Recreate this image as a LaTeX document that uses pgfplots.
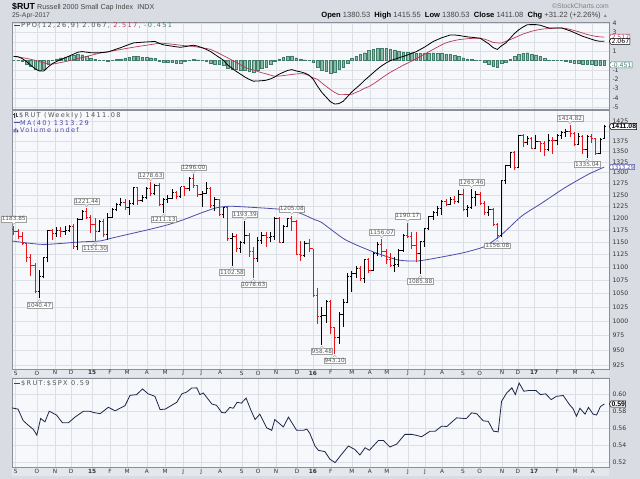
\documentclass[border=0pt]{standalone}
\usepackage{pgfplots}
\pgfplotsset{compat=1.18}
\usepackage{pgfplotstable}
\usepackage{fontspec}
\setmainfont{DejaVu Sans}
\newfontfamily\lib{Liberation Sans}
\newfontfamily\legf[LetterSpace=20]{DejaVu Sans}
\usetikzlibrary{shapes.symbols}
\definecolor{outer}{HTML}{D9DDE3}
\definecolor{plotbg}{HTML}{F7F8FB}
\definecolor{gridc}{HTML}{DCDFE6}
\definecolor{axisc}{HTML}{8A9099}
\definecolor{bandc}{HTML}{E4E7EB}
\definecolor{barred}{HTML}{E8141B}
\definecolor{mablue}{HTML}{4B4BAA}
\definecolor{sigred}{HTML}{B83A55}
\definecolor{histf}{HTML}{8CBAA8}
\definecolor{histd}{HTML}{3F7D68}
\definecolor{ratioc}{HTML}{1C2748}
\definecolor{tickc}{HTML}{333333}
\definecolor{hdrgray}{HTML}{444444}
\definecolor{labgray}{HTML}{555555}
\newcommand\ticfont{\fontsize{6.2}{7}\selectfont}
\newcommand\monfont{\fontsize{5.8}{6}\selectfont}
\newcommand\labfont{\fontsize{5.8}{6}\selectfont}
\newcommand\legfont{\legf\fontsize{6.6}{7}\selectfont}

\pgfplotstableread{
i o h l c
0 1175 1183.85 1165 1172
1 1172 1177 1156 1162
2 1162 1170 1144 1146
3 1146 1148 1110 1119
4 1119 1126 1082 1104
5 1104 1108 1050 1053
6 1053 1095 1040.47 1082
7 1082 1120 1078 1118
8 1118 1174 1110 1173
9 1173 1177 1154 1167
10 1167 1180 1160 1174
11 1174 1180 1161 1172
12 1172 1183 1165 1174
13 1174 1186 1170 1181
14 1181 1188 1136 1140
15 1140 1200 1133 1197
16 1197 1216 1195 1214
17 1214 1221.44 1198 1201
18 1201 1206 1168 1187
19 1187 1200 1151.30 1172
20 1172 1195 1170 1193
21 1193 1198 1160 1165
22 1165 1210 1155 1202
23 1202 1222 1200 1219
24 1219 1232 1215 1229
25 1229 1243 1226 1233
26 1233 1242 1218 1222
27 1222 1238 1207 1232
28 1232 1267 1228 1266
29 1266 1268 1228 1238
30 1238 1250 1235 1244
31 1244 1267 1240 1265
32 1265 1278.63 1248 1253
33 1253 1275 1250 1271
34 1271 1276 1225 1228
35 1228 1244 1211.13 1239
36 1239 1250 1232 1242
37 1242 1262 1240 1256
38 1256 1258 1240 1246
39 1246 1268 1243 1268
40 1268 1270 1248 1265
41 1265 1290 1258 1286
42 1286 1296.00 1266 1270
43 1270 1273 1246 1252
44 1252 1258 1224 1254
45 1254 1278 1252 1265
46 1265 1268 1222 1226
47 1226 1246 1215 1239
48 1239 1242 1205 1208
49 1208 1224 1200 1222
50 1222 1225 1152 1157
51 1157 1168 1102.58 1162
52 1162 1167 1130 1136
53 1136 1152 1128 1150
54 1150 1193.39 1145 1164
55 1164 1168 1120 1131
56 1131 1140 1078.63 1117
57 1117 1160 1110 1154
58 1154 1170 1145 1163
59 1163 1170 1140 1160
60 1160 1170 1150 1162
61 1162 1202 1155 1199
62 1199 1201 1148 1150
63 1150 1185 1148 1183
64 1183 1200 1180 1198
65 1198 1205.08 1173 1192
66 1192 1196 1124 1125
67 1125 1152 1112 1123
68 1123 1152 1120 1146
69 1146 1157 1130 1136
70 1136 1136 1043 1046
71 1046 1060 995 1008
72 1008 1025 958.48 1009
73 1009 1037 996 1035
74 1035 1037 977 988
75 988 990 943.10 971
76 971 1015 960 1012
77 1012 1040 990 1034
78 1034 1088 1032 1082
79 1082 1093 1052 1088
80 1088 1103 1078 1097
81 1097 1102 1073 1078
82 1078 1116 1070 1114
83 1114 1118 1088 1094
84 1094 1130 1092 1127
85 1127 1150 1122 1145
86 1145 1156.07 1120 1130
87 1130 1135 1105 1114
88 1114 1128 1100 1103
89 1103 1120 1090 1106
90 1106 1135 1100 1133
91 1133 1167 1130 1163
92 1163 1190.17 1158 1162
93 1162 1170 1135 1142
94 1142 1170 1110 1127
95 1127 1152 1085.88 1151
96 1151 1178 1140 1177
97 1177 1204 1175 1203
98 1203 1215 1195 1212
99 1212 1225 1205 1220
100 1220 1238 1206 1236
101 1236 1240 1225 1229
102 1229 1245 1228 1239
103 1239 1248 1230 1235
104 1235 1260 1232 1251
105 1251 1262 1215 1219
106 1219 1228 1203 1223
107 1223 1263.46 1220 1244
108 1244 1258 1225 1252
109 1252 1256 1228 1232
110 1232 1236 1206 1212
111 1212 1225 1205 1218
112 1218 1222 1182 1187
113 1187 1190 1156.08 1164
114 1164 1283 1160 1282
115 1282 1318 1275 1316
116 1316 1347 1312 1347
117 1347 1350 1307 1313
118 1313 1390 1312 1388
119 1388 1392 1360 1372
120 1372 1387 1366 1382
121 1382 1386 1355 1357
122 1357 1390 1355 1373
123 1373 1375 1348 1369
124 1369 1375 1340 1354
125 1354 1392 1350 1377
126 1377 1385 1345 1376
127 1376 1392 1365 1389
128 1389 1400 1380 1395
129 1395 1405 1385 1399
130 1399 1414.82 1385 1394
131 1394 1398 1362 1368
132 1368 1396 1365 1386
133 1386 1390 1345 1354
134 1354 1390 1335.04 1386
135 1386 1392 1370 1381
136 1381 1382 1342 1345
137 1345 1382 1343 1380
138 1380.53 1415.55 1380.53 1411.08
}\rut

\pgfplotstableread{
i ma
-0.4 1152
6.8 1145
15.5 1150
20.2 1152
22.5 1157
27.9 1168
31.8 1176
35.8 1185
39.6 1196
44.2 1212
47.5 1222
50.5 1225
55.2 1223
62.9 1218
66.9 1210
70.4 1196
72 1190
77.4 1155
83.7 1131
89.8 1114
94.5 1112
100.8 1121
105.4 1129
110.1 1141
114 1165
118.7 1204
123.4 1232
128.8 1266
134.2 1296
138 1313.29
}\ma

\pgfplotstableread{
i p s h
0 0.46 0.46 0.00
1 0.42 0.40 0.02
2 0.22 0.32 -0.10
3 -0.11 0.24 -0.35
4 -0.50 0.14 -0.64
5 -0.87 0.03 -0.90
6 -1.12 -0.10 -1.02
7 -1.12 -0.23 -0.89
8 -0.70 -0.36 -0.34
9 -0.33 -0.38 0.05
10 -0.09 -0.29 0.20
11 0.11 -0.20 0.31
12 0.30 -0.11 0.41
13 0.50 -0.01 0.51
14 0.70 0.10 0.60
15 0.90 0.22 0.68
16 0.97 0.33 0.64
17 0.91 0.45 0.46
18 0.85 0.56 0.29
19 0.83 0.68 0.15
20 0.85 0.80 0.05
21 0.88 0.88 0.00
22 0.93 0.96 -0.03
23 1.08 1.04 0.04
24 1.24 1.12 0.12
25 1.39 1.20 0.19
26 1.57 1.28 0.29
27 1.74 1.36 0.38
28 1.90 1.44 0.46
29 1.94 1.51 0.43
30 1.97 1.58 0.39
31 2.00 1.65 0.35
32 2.03 1.72 0.31
33 2.06 1.79 0.27
34 1.85 1.88 -0.03
35 1.69 1.85 -0.16
36 1.62 1.81 -0.19
37 1.55 1.76 -0.21
38 1.48 1.71 -0.23
39 1.43 1.65 -0.22
40 1.50 1.60 -0.10
41 1.58 1.56 0.02
42 1.65 1.53 0.12
43 1.55 1.45 0.10
44 1.39 1.38 0.01
45 1.21 1.30 -0.09
46 0.98 1.21 -0.23
47 0.66 1.00 -0.34
48 0.35 0.77 -0.42
49 0.05 0.54 -0.49
50 -0.47 0.30 -0.77
51 -0.81 0.05 -0.86
52 -1.15 -0.20 -0.95
53 -1.45 -0.45 -1.00
54 -1.75 -0.70 -1.05
55 -2.00 -0.90 -1.10
56 -2.20 -1.00 -1.20
57 -2.18 -1.15 -1.03
58 -2.15 -1.30 -0.85
59 -2.10 -1.42 -0.68
60 -1.95 -1.55 -0.40
61 -1.75 -1.68 -0.07
62 -1.45 -1.65 0.20
63 -1.25 -1.60 0.35
64 -1.05 -1.54 0.49
65 -0.96 -1.48 0.52
66 -1.10 -1.42 0.32
67 -1.20 -1.40 0.20
68 -1.33 -1.43 0.10
69 -1.55 -1.60 0.05
70 -2.00 -1.85 -0.15
71 -2.75 -2.00 -0.75
72 -3.40 -2.40 -1.00
73 -3.90 -2.75 -1.15
74 -4.40 -3.10 -1.30
75 -4.65 -3.40 -1.25
76 -4.60 -3.64 -0.96
77 -4.35 -3.64 -0.71
78 -3.85 -3.62 -0.23
79 -3.35 -3.60 0.25
80 -2.95 -3.40 0.45
81 -2.55 -3.20 0.65
82 -2.10 -2.95 0.85
83 -1.70 -2.78 1.08
84 -1.30 -2.50 1.20
85 -0.90 -2.20 1.30
86 -0.55 -1.85 1.30
87 -0.25 -1.55 1.30
88 0.00 -1.25 1.25
89 0.15 -1.00 1.15
90 0.30 -0.75 1.05
91 0.45 -0.50 0.95
92 0.60 -0.27 0.87
93 0.80 -0.05 0.85
94 0.95 0.20 0.75
95 1.20 0.45 0.75
96 1.45 0.70 0.75
97 1.75 0.95 0.80
98 2.05 1.20 0.85
99 2.25 1.45 0.80
100 2.45 1.70 0.75
101 2.60 1.90 0.70
102 2.75 2.05 0.70
103 2.75 2.15 0.60
104 2.70 2.25 0.45
105 2.62 2.30 0.32
106 2.55 2.35 0.20
107 2.50 2.38 0.12
108 2.45 2.40 0.05
109 2.40 2.40 0.00
110 2.10 2.30 -0.20
111 1.80 2.15 -0.35
112 1.40 1.95 -0.55
113 1.20 1.90 -0.70
114 1.60 1.90 -0.30
115 1.90 2.07 -0.17
116 2.40 2.25 0.15
117 2.90 2.45 0.45
118 3.30 2.65 0.65
119 3.60 2.85 0.75
120 3.85 3.00 0.85
121 3.86 3.15 0.71
122 3.86 3.25 0.61
123 3.80 3.35 0.45
124 3.65 3.40 0.25
125 3.50 3.43 0.07
126 3.50 3.46 0.04
127 3.50 3.50 0.00
128 3.50 3.50 0.00
129 3.35 3.45 -0.10
130 3.20 3.35 -0.15
131 3.00 3.22 -0.22
132 2.80 3.10 -0.30
133 2.60 2.95 -0.35
134 2.45 2.80 -0.35
135 2.30 2.70 -0.40
136 2.15 2.60 -0.45
137 2.07 2.55 -0.48
138 2.067 2.517 -0.451
}\ppo

\pgfplotstableread{
i r
-0.4 0.5844
1 0.583
2.2 0.5695
3.4 0.564
4.6 0.559
5.4 0.5523
6.3 0.572
7.3 0.568
8.3 0.5805
10 0.576
11.4 0.5668
12.8 0.567
14.3 0.5735
16.3 0.5805
17.8 0.5805
18.6 0.579
20.2 0.5776
22.1 0.5851
23.7 0.581
26 0.587
27.2 0.5992
28.7 0.600
30.1 0.6067
31.4 0.601
33 0.598
34.2 0.5824
35.4 0.583
38.1 0.591
39.3 0.601
40.4 0.603
41.6 0.6078
42.8 0.608
43.5 0.600
44.3 0.602
46.3 0.589
47.4 0.5874
48.6 0.579
49.4 0.5785
50.5 0.585
51.3 0.584
52.2 0.591
53.2 0.590
54.3 0.596
55.4 0.582
56.4 0.5707
57.5 0.577
59.1 0.561
60.3 0.558
61 0.5707
63 0.562
64.2 0.5735
66.1 0.558
67.7 0.558
68.5 0.5595
69.2 0.5543
70.4 0.5395
71.2 0.5344
72.7 0.533
73.9 0.5239
75.1 0.520
76.6 0.5297
78.2 0.5395
79.7 0.5355
80.9 0.529
82.1 0.5375
83.1 0.5345
85.2 0.546
86.4 0.546
87.9 0.5383
89.5 0.5418
91.4 0.5532
93 0.5532
94.2 0.552
95.3 0.5504
97.3 0.557
98.5 0.557
100 0.5629
101.2 0.5625
103.5 0.5727
105.1 0.572
105.8 0.572
107 0.5786
108.2 0.5775
109.7 0.5692
110.9 0.5685
112.1 0.557
113.2 0.5562
114 0.5922
115.2 0.602
116.4 0.608
117.2 0.600
118.1 0.6137
119.2 0.604
120.5 0.605
122 0.605
123.1 0.600
124.3 0.601
125.6 0.5941
126.8 0.598
128.4 0.599
129.9 0.588
130.7 0.5835
131.5 0.5746
132.3 0.584
133.5 0.577
134.3 0.585
135.4 0.577
136.2 0.576
137.1 0.586
138 0.589
}\ratio

% build OHLC segment lists (black = up close, red = down close)
\def\blacklist{}\def\redlist{}\gdef\prevc{1175}%
\pgfplotsforeachungrouped \k in {0,...,138}{%
  \pgfplotstablegetelem{\k}{o}\of\rut\let\ov\pgfplotsretval
  \pgfplotstablegetelem{\k}{h}\of\rut\let\hv\pgfplotsretval
  \pgfplotstablegetelem{\k}{l}\of\rut\let\lv\pgfplotsretval
  \pgfplotstablegetelem{\k}{c}\of\rut\let\cv\pgfplotsretval
  \pgfmathsetmacro\km{\k-0.42}%
  \pgfmathsetmacro\kp{\k+0.42}%
  \edef\seg{(\k,\lv) (\k,\hv) (nan,nan) (\km,\ov) (\k,\ov) (nan,nan) (\k,\cv) (\kp,\cv) (nan,nan) }%
  \ifdim\cv pt<\prevc pt\relax\xdef\redlist{\redlist\seg}\else\xdef\blacklist{\blacklist\seg}\fi
  \global\let\prevc\cv
}%

\pgfplotsset{
  common/.style={scale only axis, width=597bp, xmin=-0.4, xmax=139.1,
    axis background/.style={fill=plotbg},
    grid=major, grid style={gridc, line width=0.5bp},
    axis line style={axisc, line width=0.6bp},
    xtick={0.47,5.44,9.65,13.4,18.3,22.5,26.5,31.1,35.4,39.6,43.8,48.2,53.3,57.1,61.3,66.2,69.9,74.1,79.0,83.2,87.2,92.1,96.1,100.1,105.0,108.9,114.1,117.8,121.6,127.0,131.2,135.3},
    minor xtick={0,...,138},
    tick align=outside, major tick length=0bp, minor tick length=1.3bp,
    xtick pos=left, ytick pos=right, yticklabel pos=right,
    tick style={axisc, line width=0.4bp},
    yticklabel style={font=\ticfont, anchor=west, inner sep=0pt, xshift=3.3bp, text=tickc},
    xticklabel style={font=\monfont, inner sep=0pt, yshift=-1.6bp, text=tickc},
    clip=false},
  monthlabels/.style={xticklabels={S,O,N,D,\textbf{15},F,M,A,M,J,J,A,S,O,N,D,\textbf{16},F,M,A,M,J,J,A,S,O,N,D,\textbf{17},F,M,A}}
}
\tikzset{
  lab/.style={draw=gray!75, fill=white, inner sep=0.7bp, font=\labfont, text=labgray, line width=0.4bp},
  vbox/.style={shape=signal, signal to=west, signal from=nowhere, signal pointer angle=120, fill=white, inner sep=0.6bp, inner xsep=0.6bp, font=\ticfont, anchor=west, line width=0.5bp}
}
\newcommand\labup[3]{%
  \node[lab, anchor=south, yshift=3.6bp] (tn) at (axis cs:#1,#2) {#3};
  \draw[gray!75, fill=white, line width=0.4bp] ([xshift=-2bp]tn.south) -- ([yshift=-2.4bp]tn.south) -- ([xshift=2bp]tn.south);
}
\newcommand\labdn[3]{%
  \node[lab, anchor=north, yshift=-3.6bp] (tn) at (axis cs:#1,#2) {#3};
  \draw[gray!75, fill=white, line width=0.4bp] ([xshift=-2bp]tn.north) -- ([yshift=2.4bp]tn.north) -- ([xshift=2bp]tn.north);
}

\begin{document}
\begin{tikzpicture}
\path[use as bounding box, fill=outer] (0,0) rectangle (640bp,-479bp);
\fill[bandc] (12bp,-369bp) rectangle (609bp,-377bp);
\fill[bandc] (12bp,-467bp) rectangle (609bp,-476bp);

% ---------------- PPO panel
\begin{axis}[common, at={(12bp,-109bp)}, anchor=south west, height=87bp,
  ymin=-5.18, ymax=4.14, ytick={-5,-4,-3,-2,-1,0,1,2,3,4},
  yticklabels={-5,-4,-3,-2,-1,{},1,{},3,4}, xticklabels={}]
\addplot[ybar, bar width=0.6, bar shift=0pt, fill=histf, draw=histd, line width=0.3bp] table[x=i,y=h]\ppo;
\addplot[sigred, line width=0.7bp] table[x=i,y=s]\ppo;
\addplot[black, line width=0.8bp] table[x=i,y=p]\ppo;
\node[vbox, draw=sigred, text=sigred] at (axis cs:139.1,2.517) {2.517};
\node[vbox, draw=black] at (axis cs:139.1,2.067) {2.067};
\node[vbox, draw=histd, text=histd] at (axis cs:139.1,-0.451) {-0.451};
\end{axis}

% ---------------- price panel
\begin{axis}[common, monthlabels, at={(12bp,-369bp)}, anchor=south west, height=259bp,
  ymode=log, ymin=918.3, ymax=1453,
  ytick={925,950,975,1000,1025,1050,1075,1100,1125,1150,1175,1200,1225,1250,1275,1300,1325,1350,1375,1400,1425},
  yticklabels={925,950,975,1000,1025,1050,1075,1100,1125,1150,1175,1200,1225,1250,1275,1300,1325,1350,1375,{},1425}]
\addplot[mablue, line width=0.8bp, smooth, tension=0.4] table[x=i,y=ma]\ma;
\edef\tmp{\noexpand\addplot[color=black, line width=0.9bp, unbounded coords=jump] coordinates {\blacklist};}\tmp
\edef\tmp{\noexpand\addplot[color=barred, line width=0.9bp, unbounded coords=jump] coordinates {\redlist};}\tmp
\labup{0}{1183.85}{1183.85}
\labup{17}{1221.44}{1221.44}
\labup{32}{1278.63}{1278.63}
\labup{42}{1296.00}{1296.00}
\labup{54}{1193.39}{1193.39}
\labup{65}{1205.08}{1205.08}
\labup{86}{1156.07}{1156.07}
\labup{92}{1190.17}{1190.17}
\labup{107}{1263.46}{1263.46}
\labup{130}{1414.82}{1414.82}
\labdn{6}{1040.47}{1040.47}
\labdn{19}{1151.30}{1151.30}
\labdn{35}{1211.13}{1211.13}
\labdn{51}{1102.58}{1102.58}
\labdn{56}{1078.63}{1078.63}
\labdn{72}{958.48}{958.48}
\labdn{75}{943.10}{943.10}
\labdn{95}{1085.88}{1085.88}
\labdn{113}{1156.08}{1156.08}
\labdn{134}{1335.04}{1335.04}
\node[vbox, draw=mablue, text=mablue, font=\fontsize{5.5}{6}\selectfont] at (axis cs:139.1,1313.29) {1313.29};
\node[vbox, draw=black, font=\lib\bfseries\fontsize{6.9}{7}\selectfont] at (axis cs:139.1,1411.08) {1411.08};
\end{axis}

% ---------------- ratio panel
\begin{axis}[common, monthlabels, at={(12bp,-467bp)}, anchor=south west, height=89bp,
  ymin=0.5148, ymax=0.6196, ytick={0.52,0.54,0.56,0.58,0.60},
  yticklabels={0.52,0.54,0.56,0.58,0.60}]
\addplot[ratioc, line width=0.8bp] table[x=i,y=r]\ratio;
\node[vbox, draw=black, font=\lib\bfseries\fontsize{6.9}{7}\selectfont] at (axis cs:139.1,0.589) {0.59};
\end{axis}

% ---------------- header
\node[anchor=base west, inner sep=0, font=\lib\bfseries\fontsize{8.8}{9}\selectfont] at (12bp,-9.6bp) {\$RUT};
\node[anchor=base west, inner sep=0, font=\lib\fontsize{7.2}{8}\selectfont, text=hdrgray] at (37bp,-9.6bp) {Russell 2000 Small Cap Index\ \ INDX};
\node[anchor=base west, inner sep=0, font=\lib\fontsize{6.8}{8}\selectfont, text=hdrgray] at (12bp,-17.6bp) {25-Apr-2017};
\node[anchor=base east, inner sep=0, font=\lib\fontsize{6.8}{8}\selectfont, text=gray] at (609bp,-8.6bp) {©StockCharts.com};
\node[anchor=base east, inner sep=0, font=\lib\fontsize{7.6}{8}\selectfont] at (608bp,-17.8bp)
  {\textbf{Open} \textcolor{hdrgray}{1380.53}\ \ \textbf{High} \textcolor{hdrgray}{1415.55}\ \ \textbf{Low} \textcolor{hdrgray}{1380.53}\ \ \textbf{Close} \textcolor{hdrgray}{1411.08}\ \ \textbf{Chg} \textcolor{hdrgray}{+31.22 (+2.26\%)} {\color{gray}\fontsize{5}{5}\selectfont ▲}};

% ---------------- legends
\draw[hdrgray, line width=0.8bp] (14bp,-25.3bp) -- (19.5bp,-25.3bp);
\node[anchor=base west, inner sep=0, font=\legfont, text=labgray] at (21bp,-27.4bp) {PPO(12,26,9) 2.067, \textcolor{sigred}{2.517,} \textcolor{histd}{-0.451}};

\draw[hdrgray, line width=0.6bp] (14bp,-113bp) -- (14bp,-117.5bp) (13bp,-114bp) -- (14bp,-114bp) (16.5bp,-112.5bp) -- (16.5bp,-117bp) (16.5bp,-116bp) -- (17.5bp,-116bp);
\node[anchor=base west, inner sep=0, font=\legfont, text=labgray] at (19bp,-117.7bp) {\$RUT (Weekly) 1411.08};
\draw[mablue, line width=0.8bp] (13.5bp,-122.8bp) -- (19.5bp,-122.8bp);
\node[anchor=base west, inner sep=0, font=\legfont, text=mablue] at (20bp,-125bp) {MA(40) 1313.29};
\fill[mablue] (13.5bp,-132.3bp) rectangle (14.6bp,-129bp) (15.3bp,-132.3bp) rectangle (16.4bp,-128bp) (17.1bp,-132.3bp) rectangle (18.2bp,-129.6bp);
\node[anchor=base west, inner sep=0, font=\legfont, text=mablue] at (20bp,-132.3bp) {Volume undef};

\draw[hdrgray, line width=0.8bp] (14bp,-383.6bp) -- (19.5bp,-383.6bp);
\node[anchor=base west, inner sep=0, font=\legfont, text=labgray] at (21bp,-385.7bp) {\$RUT:\$SPX 0.59};
\end{tikzpicture}
\end{document}
